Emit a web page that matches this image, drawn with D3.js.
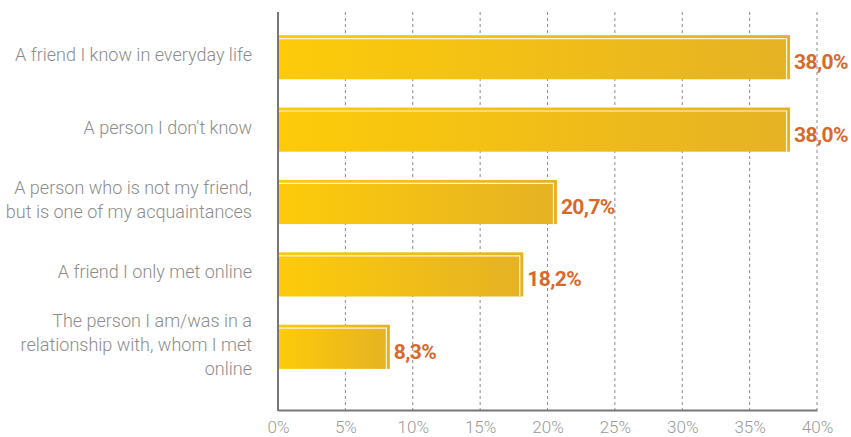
<!DOCTYPE html>
<html>
<head>
<meta charset="utf-8">
<script src="https://cdn.jsdelivr.net/npm/d3@7"></script>
<style>
  body { margin: 0; background: #fff; }
  svg { display: block; }
</style>
</head>
<body>
<div id="chart"></div>
<script>
/**
 * CONSTANTS AND DATA
 * */
const width = 851,
  height = 437,
  margin = { top: 12, right: 34, bottom: 27, left: 278 };

const categories = [
  "A friend I know in everyday life",
  "A person I don't know",
  "A person who is not my friend,\nbut is one of my acquaintances",
  "A friend I only met online",
  "The person I am/was in a\nrelationship with, whom I met\nonline"
];
const values = [38.0, 38.0, 20.7, 18.2, 8.3];
const ticks = [0, 5, 10, 15, 20, 25, 30, 35, 40];

const data = categories.map((c, i) => ({ label: c, value: values[i] }));

const svg = d3.select("#chart")
  .append("svg")
  .attr("width", width)
  .attr("height", height);

// gradient for the bars
const grad = svg.append("defs")
  .append("linearGradient")
  .attr("id", "barGrad")
  .attr("x1", "0%").attr("x2", "100%");
grad.append("stop").attr("offset", "0%").attr("stop-color", "#fdcb09");
grad.append("stop").attr("offset", "100%").attr("stop-color", "#e5b225");

// SCALES
const xScale = d3.scaleLinear()
  .domain([0, 40])
  .range([margin.left, width - margin.right]);

const yScale = d3.scaleBand()
  .domain(categories)
  .range([21, 383])
  .paddingInner(0.39)
  .paddingOuter(0.195);

const plotBottom = height - margin.bottom;

// GRIDLINES
svg.append("g")
  .selectAll("line")
  .data(ticks.slice(1))
  .join("line")
  .attr("x1", d => xScale(d))
  .attr("x2", d => xScale(d))
  .attr("y1", margin.top)
  .attr("y2", plotBottom)
  .attr("stroke", "#8a8a8a")
  .attr("stroke-width", 1)
  .attr("stroke-dasharray", "3,3");

// X AXIS
const xAxis = svg.append("g")
  .attr("transform", `translate(0,${plotBottom})`)
  .call(d3.axisBottom(xScale).tickValues(ticks).tickFormat(d => d + "%").tickSize(0).tickPadding(11));
xAxis.select(".domain").attr("stroke", "#777").attr("stroke-width", 2);
xAxis.selectAll("text")
  .attr("fill", "#9a9a9a")
  .style("font-family", "Roboto")
  .style("font-weight", 300)
  .style("font-size", "17px");

// BARS
const bars = svg.append("g")
  .selectAll("g")
  .data(data)
  .join("g");

bars.append("rect")
  .attr("x", xScale(0))
  .attr("y", d => yScale(d.label))
  .attr("width", d => xScale(d.value) - xScale(0))
  .attr("height", yScale.bandwidth())
  .attr("fill", "url(#barGrad)");

// thin highlight line inside the top and right edges
bars.append("path")
  .attr("d", d => {
    const x0 = xScale(0), x1 = xScale(d.value) - 3.5;
    const y0 = yScale(d.label) + 3.5, y1 = yScale(d.label) + yScale.bandwidth();
    return `M${x0},${y0}H${x1}V${y1}`;
  })
  .attr("fill", "none")
  .attr("stroke", "#fff6d8")
  .attr("stroke-width", 1.2);

// VALUE LABELS
bars.append("text")
  .attr("x", d => xScale(d.value) + 4)
  .attr("y", d => yScale(d.label) + yScale.bandwidth() / 2 + 12)
  .attr("fill", "#d8692b")
  .style("font-family", "Roboto")
  .style("font-weight", 700)
  .style("font-size", "21px")
  .style("letter-spacing", "-0.6px")
  .text(d => d.value.toFixed(1).replace(".", ",") + "%");

// Y AXIS line
svg.append("line")
  .attr("x1", xScale(0)).attr("x2", xScale(0))
  .attr("y1", margin.top).attr("y2", plotBottom + 1)
  .attr("stroke", "#777")
  .attr("stroke-width", 2);

// CATEGORY LABELS
const lineH = 24;
svg.append("g")
  .selectAll("text")
  .data(data)
  .join("text")
  .attr("text-anchor", "end")
  .attr("fill", "#8c8c8c")
  .style("font-family", "Roboto")
  .style("font-weight", 300)
  .style("font-size", "18px")
  .each(function(d) {
    const lines = d.label.split("\n");
    const cy = yScale(d.label) + yScale.bandwidth() / 2;
    const startY = cy - (lines.length - 1) * lineH / 2 + 4;
    d3.select(this)
      .selectAll("tspan")
      .data(lines)
      .join("tspan")
      .attr("x", 252)
      .attr("y", (l, i) => startY + i * lineH)
      .text(l => l);
  });
</script>
</body>
</html>
